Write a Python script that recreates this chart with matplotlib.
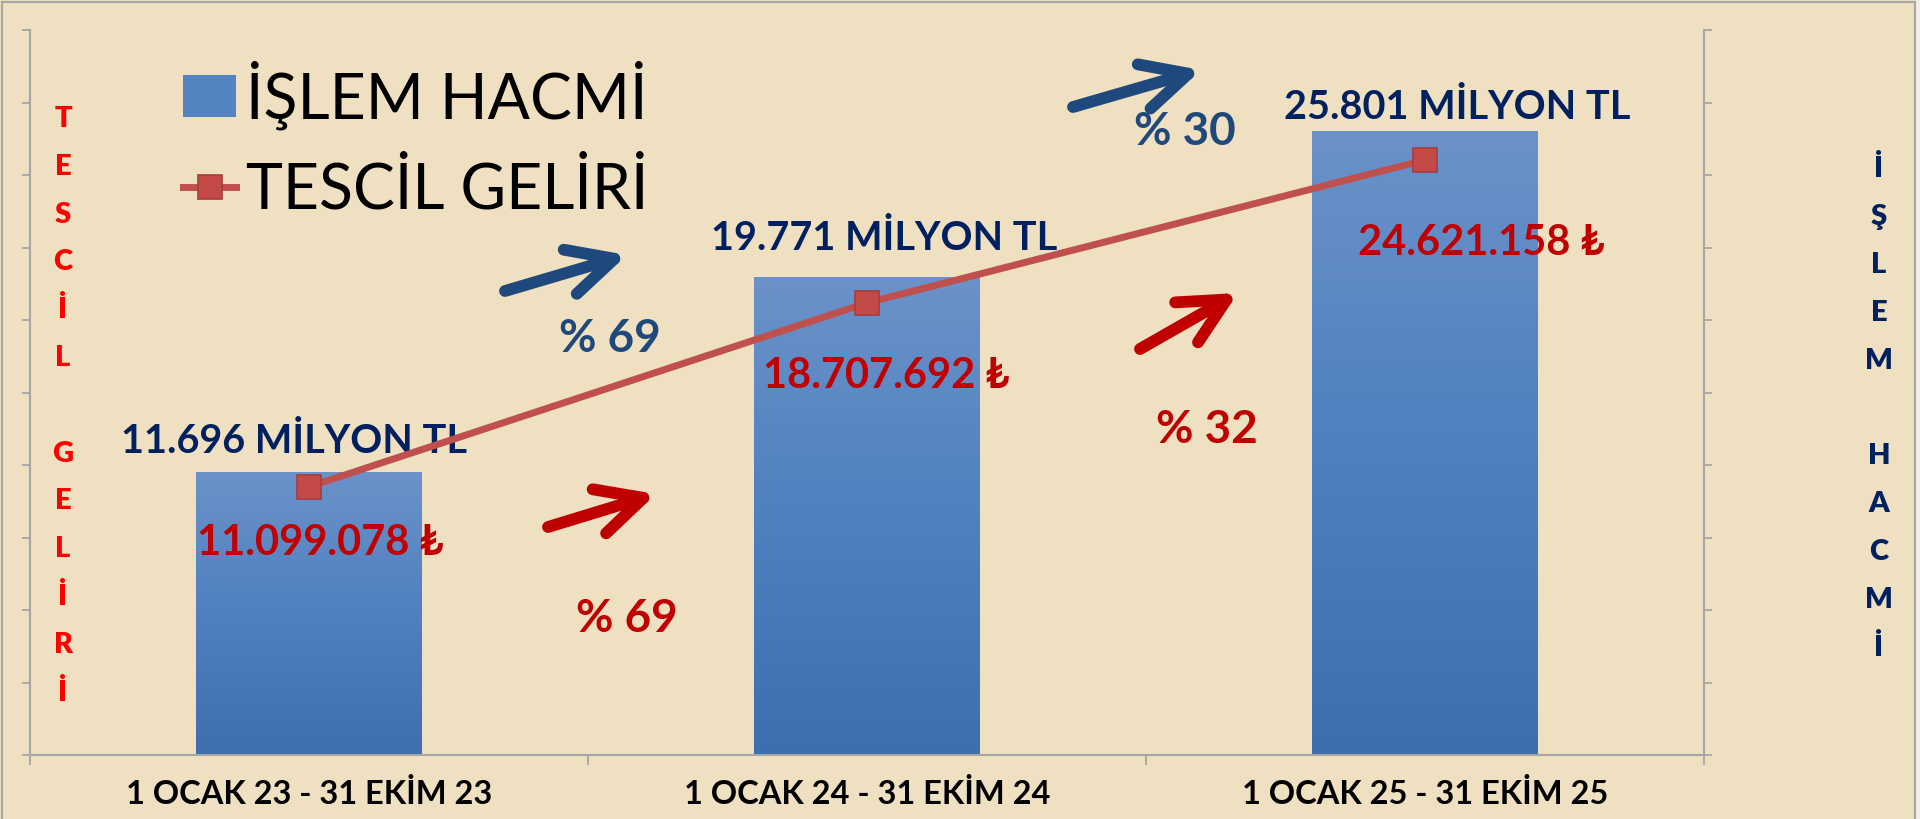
import numpy as np
import matplotlib
matplotlib.use("Agg")
import matplotlib.pyplot as plt
from matplotlib.colors import LinearSegmentedColormap
from matplotlib.patches import FancyArrowPatch, Rectangle
from matplotlib.lines import Line2D

# data
periods = ["1 OCAK 23 - 31 EKİM 23", "1 OCAK 24 - 31 EKİM 24", "1 OCAK 25 - 31 EKİM 25"]
islem_hacmi = [11696, 19771, 25801]               # milyon TL
tescil_geliri = [11099078, 18707692, 24621158]    # TL
hacim_artis = [69, 30]                            # % change, bars
gelir_artis = [69, 32]                            # % change, line

W, H = 1920, 819
BG = "#eee0c0"
NAVY = "#002060"
DARKRED = "#c00000"
ARROW_BLUE = "#1f497d"
LINE_RED = "#c0504d"
GRAY = "#a6a6a6"

plt.rcParams['font.family'] = ['Lato', 'DejaVu Sans']


def fp(x, y):
    """pixel position (top-left origin) -> figure fraction"""
    return x / W, 1 - y / H


def thousands(v):
    return f"{v:,}".replace(",", ".")


fig = plt.figure(figsize=(W / 100, H / 100), dpi=100, facecolor=BG)

# outer frame of the chart area
fig.add_artist(Rectangle(fp(1915, H), (W - 1915) / W, 1, transform=fig.transFigure,
                         facecolor="#f3efe6", edgecolor="none", zorder=0))
for xs, ys in [((2, 2), (2, H)), ((2, 1915), (2, 2)), ((1915, 1915), (2, H))]:
    fig.add_artist(Line2D([x / W for x in xs], [1 - y / H for y in ys],
                          transform=fig.transFigure, color=GRAY, lw=1.5))

x0, y0 = fp(30, 755)
ax = fig.add_axes([x0, y0, (1704 - 30) / W, (755 - 30) / H])
ax.set_facecolor("none")
ax2 = ax.twinx()

x = np.arange(len(periods))

# bars (İşlem hacmi) with a vertical gradient
bars = ax.bar(x, islem_hacmi, width=0.405, color="#5584c3", zorder=2,
              label="İŞLEM HACMİ")
cmap = LinearSegmentedColormap.from_list("bar", ["#3d6fb0", "#4f80c0", "#6b92c9"])
grad = np.linspace(0, 1, 256).reshape(-1, 1)
for b in bars:
    im = ax.imshow(grad, extent=[b.get_x(), b.get_x() + b.get_width(), 0, b.get_height()],
                   origin="lower", aspect="auto", cmap=cmap, zorder=2.1)
    im.set_clip_path(b)

ax.set_xlim(-0.5, 2.5)
ax.set_ylim(0, 30000)
ax2.set_ylim(0, 30000000)

# line (Tescil geliri)
ax2.plot(x, tescil_geliri, color=LINE_RED, lw=5, marker="s", ms=17,
         mfc="#c44a47", mec="#a83c3a", mew=1.2, zorder=3, label="TESCİL GELİRİ")

# axes styling
ax.set_yticks(np.arange(0, 30001, 3000))
ax2.set_yticks(np.arange(0, 30000001, 3000000))
ax.set_yticklabels([])
ax2.set_yticklabels([])
ax.set_xticks([-0.5, 0.5, 1.5, 2.5])
ax.set_xticklabels([])
ax.set_xticks(x, periods, minor=True)
ax.tick_params(axis="x", which="minor", length=0, pad=17, labelsize=23.5)
ax.tick_params(axis="x", which="major", length=7, width=1.3, color=GRAY)
ax.tick_params(axis="y", length=6, width=1.3, color=GRAY)
ax2.tick_params(axis="y", length=6, width=1.3, color=GRAY)
for lab in ax.get_xticklabels(minor=True):
    lab.set_fontweight("bold")
for s in ["top", "right"]:
    ax.spines[s].set_visible(False)
for s in ["top", "left", "bottom"]:
    ax2.spines[s].set_visible(False)
for s in ["left", "bottom"]:
    ax.spines[s].set_color(GRAY)
    ax.spines[s].set_linewidth(1.5)
ax2.spines["right"].set_color(GRAY)
ax2.spines["right"].set_linewidth(1.5)

# value labels
bar_offsets = [(-15, 19), (17, 27), (32, 12)]
for i, (v, off) in enumerate(zip(islem_hacmi, bar_offsets)):
    ax.annotate(f"{thousands(v)} MİLYON TL", xy=(i, v), xytext=off,
                textcoords="offset pixels", ha="center", va="baseline",
                fontsize=28.5, fontweight="bold", color=NAVY, zorder=5)
line_offsets = [(11, -68), (19, -85), (56, -95)]
for i, (v, off) in enumerate(zip(tescil_geliri, line_offsets)):
    ax2.annotate(f"{thousands(v)} ₺", xy=(i, v), xytext=off,
                 textcoords="offset pixels", ha="center", va="baseline",
                 fontsize=30, fontweight="bold", color=DARKRED, zorder=5)

# growth arrows and percentages
arrows = [((505, 291), (627, 255), ARROW_BLUE),
          ((1073, 107), (1201, 70), ARROW_BLUE),
          ((548, 527), (656, 494), DARKRED),
          ((1140, 349), (1238, 293), DARKRED)]
for a, b, c in arrows:
    arr = FancyArrowPatch(fp(*a), fp(*b), transform=fig.transFigure,
                          arrowstyle="->,head_length=46,head_width=23",
                          mutation_scale=0.72, lw=8.5, color=c,
                          capstyle="round", joinstyle="round",
                          shrinkA=0, shrinkB=0, zorder=6)
    fig.add_artist(arr)

pct_pos = [((610, 352), hacim_artis[0], ARROW_BLUE),
           ((1185, 145), hacim_artis[1], ARROW_BLUE),
           ((627, 632), gelir_artis[0], DARKRED),
           ((1207, 443), gelir_artis[1], DARKRED)]
for (px, py), p, c in pct_pos:
    fig.text(*fp(px, py), f"% {p}", ha="center", va="baseline",
             fontsize=33, fontweight="bold", color=c)

# vertical axis titles, one letter per line
for k, ch in enumerate("TESCİL GELİRİ"):
    if ch != " ":
        fig.text(*fp(63, 127 + k * 47.8), ch, ha="center", va="baseline",
                 fontsize=21, fontweight="heavy", color="#ff0000")
for k, ch in enumerate("İŞLEM HACMİ"):
    if ch != " ":
        fig.text(*fp(1879, 177 + k * 47.9), ch, ha="center", va="baseline",
                 fontsize=21, fontweight="heavy", color=NAVY)

# legend
h1, l1 = ax.get_legend_handles_labels()
h2, l2 = ax2.get_legend_handles_labels()
ax2.legend(h1 + h2, l1 + l2, loc="upper left",
           bbox_to_anchor=fp(183, 60), bbox_transform=fig.transFigure,
           frameon=False, fontsize=45, handlelength=0.85, handleheight=0.65,
           handletextpad=0.15, labelspacing=0.5, borderpad=0, borderaxespad=0)

fig.savefig("out.png", dpi=100, facecolor=BG)
